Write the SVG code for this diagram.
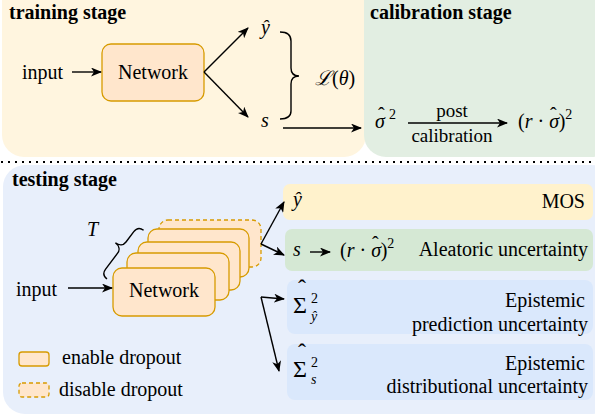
<svg xmlns="http://www.w3.org/2000/svg" width="595" height="417" viewBox="0 0 595 417">
  <style>
    text { font-family: "Liberation Serif", "Times New Roman", serif; font-size: 20px; fill: #000; }
    .b { font-weight: bold; }
    .m { font-style: italic; }
    .sm { font-size: 14px; }
    .big { font-size: 24px; }
    .hat { font-style: normal; }
    .net { fill: #ffe6cc; stroke: #d79b00; stroke-width: 1.3; }
    .dash { stroke-dasharray: 4 3; }
    .ln { fill: none; stroke: #000; stroke-width: 1.4; }
    .arr { fill: none; stroke: #000; stroke-width: 1.4; marker-end: url(#ah); }
  </style>
  <defs>
    <marker id="ah" markerWidth="11" markerHeight="9" refX="10" refY="4.5" orient="auto" markerUnits="userSpaceOnUse">
      <path d="M0,0 L11,4.5 L0,9 L3,4.5 z" fill="#000"/>
    </marker>
  </defs>

  <!-- stage panels -->
  <g id="panels">
    <rect x="2" y="-20" width="364" height="177" rx="22" fill="#fff5df"/>
    <rect x="364" y="-20" width="250" height="177" rx="22" fill="#e2eee2"/>
    <rect x="3" y="165" width="610" height="249" rx="22" fill="#e8effb"/>
    <line x1="1" y1="162" x2="595" y2="162" stroke="#000" stroke-width="2.2" stroke-dasharray="2 5"/>
  </g>

  <g id="titles">
    <text class="b" x="9" y="19">training stage</text>
    <text class="b" x="370" y="19">calibration stage</text>
    <text class="b" x="12" y="186">testing stage</text>
  </g>

  <!-- training stage -->
  <g id="train-input"><text x="22" y="79">input</text></g>
  <g id="train-network">
    <rect class="net" x="102" y="44" width="102" height="57" rx="9"/>
    <text x="153" y="79" text-anchor="middle">Network</text>
  </g>
  <g id="train-yhat"><text class="m" x="261" y="34">ŷ</text></g>
  <g id="train-s"><text class="m" x="261" y="127">s</text></g>
  <g id="loss"><text x="315" y="85"><tspan class="m">ℒ</tspan>(<tspan class="m">θ</tspan>)</text></g>

  <!-- calibration stage -->
  <g id="sigma">
    <text class="m" x="375" y="128">σ<tspan class="hat" x="378" dy="-6">ˆ</tspan><tspan class="sm hat" x="389" dy="-3">2</tspan></text>
  </g>
  <g id="post-cal">
    <text x="452" y="117" text-anchor="middle" style="font-size:19px">post</text>
    <text x="452" y="142" text-anchor="middle" style="font-size:19px">calibration</text>
  </g>
  <g id="scaled-sigma">
    <text x="518" y="128">(<tspan class="m">r</tspan> · <tspan class="m">σ</tspan><tspan dx="-9" dy="-6">ˆ</tspan><tspan dx="2" dy="6">)</tspan><tspan class="sm" dy="-9">2</tspan></text>
  </g>

  <!-- testing stage -->
  <g id="test-input"><text x="16" y="296">input</text></g>
  <g id="test-network">
    <rect class="net dash" x="159" y="220" width="102" height="47" rx="9"/>
    <rect class="net" x="148" y="229" width="101" height="48" rx="9"/>
    <rect class="net" x="138" y="242" width="102" height="48" rx="9"/>
    <rect class="net" x="127" y="253" width="102" height="47" rx="9"/>
    <rect class="net" x="113" y="268" width="102" height="48" rx="9"/>
    <text x="164" y="297" text-anchor="middle">Network</text>
  </g>
  <g id="samples">
    <path class="ln" d="M0,0 C0,-5 2,-7 7,-7 L27,-7 C31,-7 34,-10 34,-15 C34,-10 37,-7 41,-7 L54,-7 C59,-7 61,-5 61,0" transform="translate(107,279) rotate(-53.13)"/>
    <text class="m" x="87" y="236">T</text>
  </g>

  <g id="out-mos">
    <rect x="283" y="184" width="310" height="36" rx="7" fill="#fff2cc"/>
    <text class="m" x="293" y="206">ŷ</text>
    <text x="585" y="208" text-anchor="end">MOS</text>
  </g>
  <g id="out-aleatoric">
    <rect x="285" y="229" width="308" height="42" rx="7" fill="#d5e8d4"/>
    <text class="m" x="293" y="256">s</text>
    <line class="arr" x1="310" y1="252" x2="330" y2="252"/>
    <text x="340" y="257">(<tspan class="m">r</tspan> · <tspan class="m">σ</tspan><tspan dx="-9" dy="-6">ˆ</tspan><tspan dx="2" dy="6">)</tspan><tspan class="sm" dy="-9">2</tspan></text>
    <text x="588" y="256" text-anchor="end">Aleatoric uncertainty</text>
  </g>
  <g id="out-pred">
    <rect x="287" y="280" width="306" height="54" rx="8" fill="#dae8fc"/>
    <text class="big" x="293" y="313">Σ<tspan x="298" dy="-17">ˆ</tspan><tspan class="sm" x="311" dy="7">2</tspan><tspan class="sm m" x="311" dy="18">ŷ</tspan></text>
    <text x="585" y="307" text-anchor="end">Epistemic</text>
    <text x="588" y="331" text-anchor="end">prediction uncertainty</text>
  </g>
  <g id="out-dist">
    <rect x="287" y="344" width="306" height="56" rx="8" fill="#dae8fc"/>
    <text class="big" x="293" y="377">Σ<tspan x="298" dy="-17">ˆ</tspan><tspan class="sm" x="311" dy="7">2</tspan><tspan class="sm m" x="311" dy="17">s</tspan></text>
    <text x="585" y="370" text-anchor="end">Epistemic</text>
    <text x="588" y="393" text-anchor="end">distributional uncertainty</text>
  </g>

  <g id="legend">
    <rect class="net" x="19" y="352" width="30" height="14" rx="3"/>
    <text x="62" y="364">enable dropout</text>
    <rect class="net dash" x="19" y="383" width="30" height="14" rx="3"/>
    <text x="59" y="396">disable dropout</text>
  </g>

  <!-- connectors -->
  <g id="connectors">
    <line class="arr" x1="72" y1="72" x2="101" y2="72"/>
    <line class="arr" x1="204" y1="72" x2="248" y2="28"/>
    <line class="arr" x1="204" y1="72" x2="248" y2="117"/>
    <path class="ln" d="M280,32 C287,32 291,35 291,41 L291,68 C291,73 294,76 299,76 C294,76 291,79 291,84 L291,111 C291,116 287,119 280,119"/>
    <line class="arr" x1="283" y1="128" x2="361" y2="128"/>
    <line class="arr" x1="408" y1="123" x2="507" y2="123"/>
    <line class="arr" x1="68" y1="288" x2="112" y2="288"/>
    <line class="arr" x1="261" y1="244" x2="284" y2="202"/>
    <line class="arr" x1="261" y1="244" x2="284" y2="255"/>
    <line class="arr" x1="261" y1="297" x2="284" y2="299"/>
    <line class="arr" x1="261" y1="297" x2="279" y2="371"/>
  </g>
</svg>
